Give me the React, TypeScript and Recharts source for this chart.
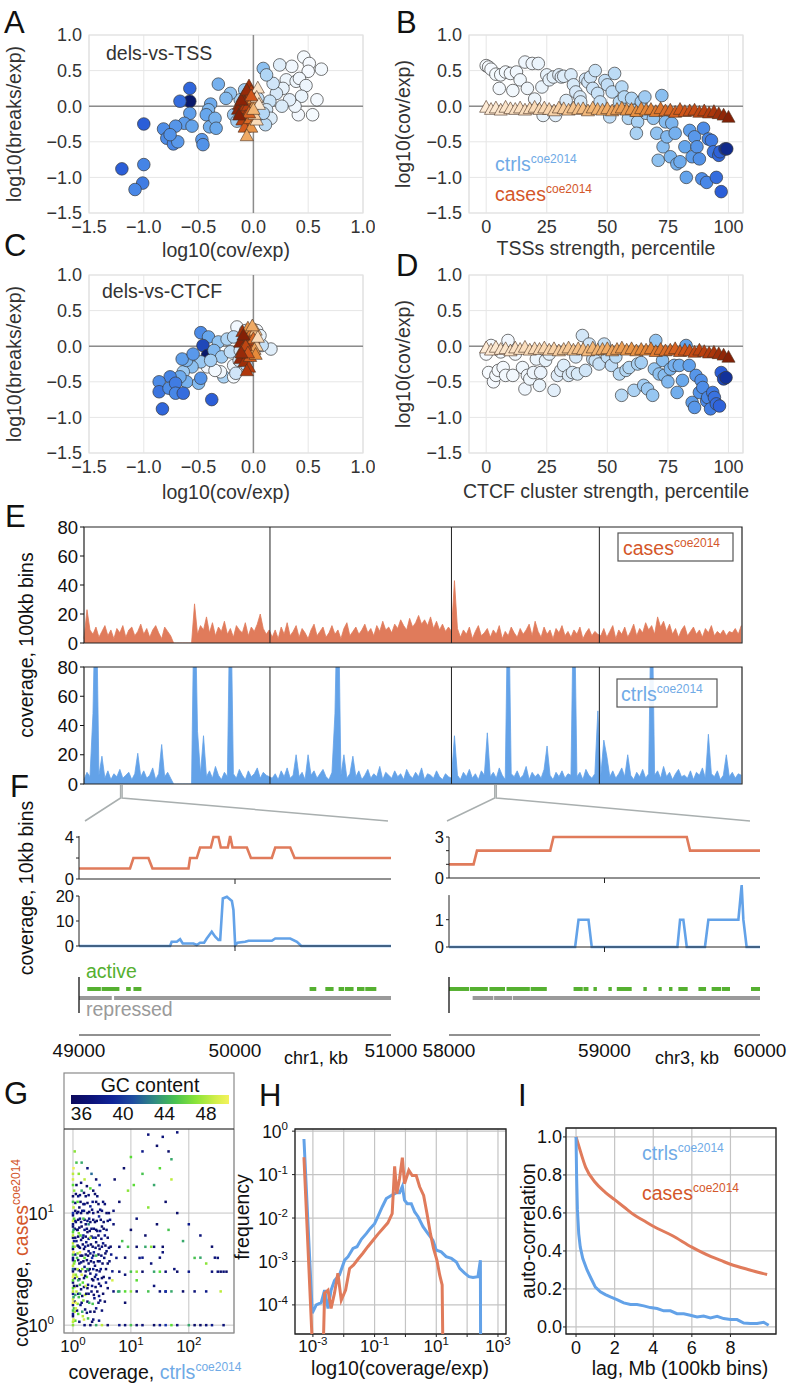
import React from "react";
import {
  ScatterChart, Scatter, XAxis, YAxis, CartesianGrid, ReferenceLine, ReferenceArea,
  AreaChart, Area, LineChart, Line,
} from "recharts";

const FONT = '"Liberation Sans", Arial, Helvetica, sans-serif';
const ORANGE = "#e07b5b";
const BLUE = "#63a2e8";
const CASE_TXT = "#d4572a";
const CTRL_TXT = "#6faae6";
const GREEN = "#55b030";
const GRAY_TRACK = "#9a9a9a";

// ---------------- data: panels A-D ----------------
const logTicks = [-1.5, -1, -0.5, 0, 0.5, 1];
const pctTicks = [0, 25, 50, 75, 100];

// B: TSS strength percentile vs log10(cov/exp), controls (circles)
const tssCtrlPct = [0, 1, 2, 4, 5.4, 6, 8, 10, 11, 12.5, 14, 16, 17, 19, 20, 21.5, 23, 23.5, 25, 26, 27.7, 28.6, 30, 31, 32, 33, 35, 36, 37, 38.7, 39, 41, 42, 43, 44, 45, 46, 47, 49, 50, 51, 52, 53, 55, 56, 57, 58.7, 60, 61, 62.5, 62, 64, 65.5, 66, 69, 70.4, 71, 72.5, 73, 74, 74.6, 76, 76.6, 78, 78.7, 80, 82, 82.6, 84, 85, 86, 87, 88, 89.7, 89, 91, 91.7, 93, 93.8, 95, 96, 97, 96.5, 98.6, 99.3];
const tssCtrlCov = [0.57, 0.55, 0.52, 0.45, 0.25, 0.44, 0.48, 0.46, 0.22, 0.48, 0.37, 0.62, 0.25, 0.6, 0.1, 0.6, 0.27, -0.13, 0.44, 0.37, 0.41, -0.13, 0.44, 0.41, 0.42, 0.08, 0.44, 0.3, 0.2, 0.13, 0.06, 0.38, 0.34, 0.41, 0.25, 0.5, 0.18, 0.06, 0.36, 0.3, -0.15, 0.2, 0.46, 0.06, 0.27, 0.13, -0.17, 0.11, -0.06, -0.22, -0.38, 0.06, 0.13, -0.1, -0.17, -0.38, -0.76, 0.15, -0.57, -0.22, -0.43, -0.71, -0.24, -0.38, -0.81, -0.78, -0.57, -1.0, -0.34, -0.71, -0.43, -0.57, -0.74, -0.31, -1.02, -1.07, -0.46, -0.48, -0.64, -1.0, -0.69, -1.2, -0.64, -0.6, -0.6];
// B: cases (triangles)
const casePct = [0, 2, 4, 6, 8, 10, 12, 14, 16, 18, 20, 22, 24, 26, 28, 30, 32, 34, 36, 38, 40, 42, 44, 46, 48, 50, 52, 54, 56, 58, 60, 62, 64, 66, 68, 70, 72, 74, 76, 78, 80, 82, 84, 86, 88, 90, 92, 94, 96, 98, 100];
const tssCaseCov = [-0.02, -0.05, -0.03, -0.06, -0.02, -0.04, -0.05, -0.03, -0.06, -0.04, -0.02, -0.05, -0.03, -0.05, -0.07, -0.03, -0.04, -0.06, -0.03, -0.05, -0.04, -0.07, -0.03, -0.05, -0.06, -0.04, -0.07, -0.05, -0.03, -0.06, -0.05, -0.08, -0.04, -0.06, -0.05, -0.08, -0.04, -0.07, -0.06, -0.09, -0.05, -0.08, -0.07, -0.06, -0.09, -0.07, -0.1, -0.08, -0.11, -0.13, -0.16];

// A: [log10(cov/exp), log10(breaks/exp), percentile]
const tssCtrlBreaks = [
  [0.46, 0.69, 5], [0.51, 0.6, 3], [0.62, 0.52, 8], [0.35, 0.56, 12], [0.24, 0.58, 30], [0.3, 0.37, 18], [0.27, 0.25, 25], [0.39, 0.35, 14], [0.5, 0.49, 2], [0.42, 0.39, 10],
  [0.48, 0.29, 20], [0.58, 0.09, 6], [0.54, -0.12, 4], [0.44, 0.14, 22], [0.41, -0.12, 9], [0.38, 0, 16], [0.33, 0.09, 28], [0.26, 0, 35], [0.21, 0.18, 38], [0.18, 0.32, 42],
  [0.15, 0.07, 45], [0.12, -0.05, 40], [0.16, -0.17, 33], [0.11, -0.26, 55], [0.09, 0.53, 72], [0.12, 0.44, 60], [0.04, 0.11, 50], [0.09, -0.1, 58], [-0.08, 0.23, 66], [-0.12, 0.09, 62],
  [-0.18, -0.12, 68], [-0.15, -0.21, 64], [-0.21, 0.18, 70], [-0.25, 0.11, 74], [-0.32, 0.31, 78], [-0.39, 0.03, 80], [-0.41, -0.05, 76], [-0.43, -0.12, 82], [-0.4, -0.29, 79], [-0.35, -0.17, 77],
  [-0.34, -0.31, 81], [-0.47, -0.47, 86], [-0.46, -0.54, 88], [-0.58, 0.25, 96], [-0.58, 0.07, 100], [-0.67, 0.07, 95], [-0.58, -0.1, 84], [-0.63, -0.24, 85], [-0.56, -0.28, 83], [-0.71, -0.28, 87],
  [-0.82, -0.32, 89], [-0.79, -0.45, 90], [-0.73, -0.53, 91], [-0.69, -0.5, 86], [-0.76, -0.4, 88], [-1.0, -0.25, 97], [-1.0, -0.82, 92], [-1.01, -1.08, 93], [-1.08, -1.17, 91], [-1.2, -0.88, 97],
];
const tssCaseBreaks = [
  [-0.04, 0.28, 95], [-0.02, 0.2, 90], [-0.06, 0.15, 92], [-0.1, 0.12, 96], [-0.08, 0.05, 98], [-0.13, 0.02, 97], [-0.14, -0.05, 99], [-0.12, -0.1, 94], [-0.09, -0.05, 93], [-0.05, 0.0, 91],
  [-0.03, 0.08, 85], [-0.07, -0.15, 88], [-0.1, -0.2, 90], [-0.05, -0.25, 86], [-0.08, -0.3, 80], [-0.03, -0.18, 75], [-0.01, -0.08, 70], [0.0, 0.1, 65], [0.02, 0.05, 55], [-0.02, -0.3, 60],
  [-0.06, -0.42, 50], [0.03, -0.2, 20], [0.04, 0.25, 10], [0.03, 0.12, 15], [0.05, 0.02, 5], [0.01, -0.12, 30], [-0.04, -0.1, 78], [-0.11, 0.08, 99], [-0.06, 0.22, 97], [-0.13, -0.13, 100],
  [0.0, -0.05, 45], [-0.02, 0.14, 82],
];

// D: CTCF cluster strength percentile vs log10(cov/exp)
const ctcfCtrlPct = [0, 1, 2, 3, 4, 5, 6, 7, 8, 9, 11, 12, 15, 16, 17, 18, 19.5, 20.7, 22, 22.5, 24.5, 26, 28, 29.4, 30.8, 32, 34, 35.6, 37, 37.7, 39.7, 41, 42.5, 44, 45, 46.6, 48.7, 50, 51.7, 53.5, 55, 55.9, 57.7, 59, 61, 62.5, 64, 65, 66.6, 68.7, 69.4, 70, 71.4, 72.8, 73.5, 75, 76, 77.6, 78.8, 79.7, 81, 82.5, 83.8, 85, 86, 86.6, 88, 88.7, 89.4, 91, 91.4, 92.6, 93.5, 94.2, 95, 96.3, 97, 98, 99];
const ctcfCtrlCov = [-0.11, -0.37, 0.01, -0.5, -0.41, -0.34, -0.08, -0.3, -0.41, 0.08, -0.41, -0.11, -0.3, -0.6, -0.41, -0.46, -0.37, -0.18, -0.55, -0.37, -0.2, -0.11, -0.62, -0.41, -0.34, -0.27, -0.41, -0.37, -0.15, -0.39, 0.15, -0.34, 0.03, -0.18, -0.2, -0.25, 0.03, -0.15, -0.27, -0.15, -0.39, -0.69, -0.34, -0.3, -0.62, -0.25, -0.23, -0.55, -0.6, -0.69, -0.32, 0.08, -0.39, -0.2, -0.41, -0.5, -0.32, -0.27, -0.65, -0.27, -0.48, 0.01, -0.27, -0.79, -0.86, -0.41, -0.65, -0.48, -0.58, -0.77, -0.72, -0.88, -0.65, -0.72, -0.81, -0.84, -0.37, -0.46, -0.44];
const ctcfCaseCov = [-0.03, -0.06, -0.02, -0.05, -0.04, -0.07, -0.03, -0.05, -0.02, -0.06, -0.04, -0.05, -0.03, -0.06, -0.04, -0.07, -0.05, -0.03, -0.06, -0.04, -0.05, -0.07, -0.03, -0.06, -0.05, -0.04, -0.07, -0.05, -0.03, -0.06, -0.04, -0.07, -0.05, -0.06, -0.04, -0.08, -0.05, -0.07, -0.06, -0.04, -0.08, -0.06, -0.07, -0.09, -0.06, -0.08, -0.1, -0.09, -0.11, -0.13, -0.16];

// C: [log10(cov/exp), log10(breaks/exp), percentile]
const ctcfCtrlBreaks = [
  [-0.48, 0.19, 90], [-0.41, 0.13, 82], [-0.46, 0.01, 98], [-0.42, -0.13, 100], [-0.32, 0.06, 70], [-0.36, -0.06, 75], [-0.24, 0.1, 60], [-0.15, 0.27, 10], [-0.07, 0.22, 45], [-0.18, 0.13, 55],
  [-0.29, -0.15, 65], [-0.21, -0.08, 50], [-0.12, -0.06, 40], [-0.18, -0.27, 20], [-0.27, -0.43, 62], [-0.18, -0.43, 5], [-0.3, -0.36, 15], [-0.42, -0.29, 12], [-0.48, -0.22, 68], [-0.56, -0.29, 72],
  [-0.64, -0.36, 66], [-0.61, -0.5, 78], [-0.5, -0.52, 74], [-0.48, -0.45, 88], [-0.67, -0.43, 80], [-0.76, -0.43, 92], [-0.86, -0.5, 90], [-0.86, -0.64, 94], [-0.77, -0.59, 89], [-0.71, -0.52, 93],
  [-0.71, -0.66, 91], [-0.64, -0.66, 95], [-0.83, -0.88, 96], [-0.38, -0.75, 97], [0.16, -0.04, 30], [0.08, 0.01, 48], [0.03, 0.22, 3], [0.06, 0.15, 25], [0.0, 0.08, 52], [-0.06, -0.15, 35],
  [-0.06, -0.27, 58], [-0.16, -0.38, 42], [-0.13, -0.2, 38], [-0.35, -0.34, 8], [-0.39, -0.2, 64], [-0.61, -0.2, 76], [-0.65, -0.18, 84], [-0.55, -0.11, 86],
];
const ctcfCaseBreaks = [
  [-0.1, 0.2, 95], [-0.05, 0.25, 60], [-0.02, 0.18, 70], [0.02, 0.22, 40], [-0.08, 0.1, 97], [-0.12, 0.05, 99], [-0.04, 0.05, 90], [0.0, 0.1, 75], [0.03, 0.0, 30], [-0.06, -0.02, 92],
  [-0.1, -0.05, 94], [-0.02, -0.08, 85], [-0.12, -0.18, 98], [-0.08, -0.22, 96], [-0.04, -0.3, 91], [-0.06, -0.35, 93], [-0.03, -0.15, 80], [0.01, -0.05, 55], [-0.07, 0.0, 88], [-0.09, 0.15, 100],
  [0.04, 0.12, 20], [-0.01, 0.28, 50], [0.02, -0.12, 65], [-0.05, -0.1, 83], [-0.11, -0.1, 97],
];

// ---------------- data: panel E (100kb coverage, chr1-4, sampled every 4 Mb) ----------------
const chromBounds = [249, 492, 690];
const genomeMb = 881;
const binStepMb = 4;
const casesE = [
  3, 23, 9, 6, 11, 4, 8, 12, 5, 9, 3, 10, 7, 12, 4, 9, 11, 5, 8, 13, 6, 10, 4, 9, 12, 7, 3, 11, 8, 5, 0, 0, 0, 0, 0, 0, 0, 27, 6, 12, 9, 18, 7, 14, 5, 11, 8, 15, 6, 10, 4, 12, 9, 7, 14, 5, 11, 8, 13, 20, 10, 6, 9,
  4, 9, 3, 11, 6, 14, 5, 8, 12, 4, 10, 7, 3, 9, 13, 5, 8, 11, 4, 7, 12, 6, 9, 3, 10, 14, 5, 8, 11, 6, 9, 13, 7, 10, 5, 12, 8, 15, 9, 11, 7, 13, 10, 16, 12, 9, 17, 11, 14, 19, 13, 16, 12, 18, 10, 15, 9, 13, 8, 11,
  8, 43, 10, 4, 9, 6, 11, 3, 8, 12, 5, 7, 10, 4, 9, 6, 12, 3, 8, 5, 11, 7, 4, 10, 6, 9, 13, 5, 15, 8, 4, 11, 6, 9, 3, 10, 7, 12, 5, 8, 4, 9, 6, 11, 3, 7, 10, 5, 8, 6,
  5, 10, 4, 8, 12, 3, 9, 6, 11, 4, 8, 13, 5, 10, 7, 14, 9, 12, 6, 18, 11, 15, 8, 13, 6, 10, 4, 9, 12, 5, 8, 11, 6, 9, 4, 10, 7, 12, 5, 8, 6, 9, 5, 8, 7, 10, 6, 12,
];
const ctrlsE = [
  3, 8, 5, 48, 150, 6, 19, 4, 9, 3, 7, 5, 10, 4, 6, 8, 3, 7, 21, 5, 9, 4, 6, 11, 3, 7, 27, 5, 8, 4, 0, 0, 0, 0, 0, 0, 0, 150, 36, 7, 33, 5, 9, 4, 12, 6, 3, 8, 5, 150, 7, 4, 10, 6, 3, 9, 5, 7, 11, 4, 8, 6, 5,
  4, 7, 3, 9, 5, 11, 4, 6, 20, 5, 8, 3, 20, 6, 9, 4, 7, 10, 5, 3, 8, 48, 150, 6, 20, 4, 7, 19, 5, 9, 3, 6, 10, 4, 7, 5, 12, 3, 8, 6, 4, 9, 5, 7, 3, 10, 6, 4, 8, 5, 11, 3, 7, 6, 4, 9, 5, 3, 7, 5,
  4, 33, 6, 3, 8, 5, 10, 4, 7, 3, 9, 6, 35, 5, 8, 4, 11, 6, 3, 150, 7, 5, 9, 4, 6, 12, 3, 8, 5, 7, 4, 10, 26, 6, 3, 8, 5, 9, 4, 7, 6, 150, 5, 8, 3, 10, 6, 4, 7, 50,
  6, 30, 19, 5, 9, 4, 7, 11, 5, 20, 6, 3, 8, 5, 10, 4, 7, 150, 6, 9, 4, 12, 5, 8, 3, 7, 10, 5, 6, 4, 9, 3, 8, 6, 11, 4, 34, 7, 5, 9, 3, 6, 20, 5, 8, 4, 7, 6,
];

// ---------------- data: panel F (10kb bins) ----------------
const fLeftCases = [[49000, 1], [49327, 1], [49349, 2], [49445, 2], [49471, 1], [49702, 1], [49712, 2], [49755, 2], [49776, 3], [49845, 3], [49862, 4], [49894, 4], [49909, 3], [49954, 3], [49969, 4.1], [49984, 3], [50076, 3], [50102, 2], [50236, 2], [50258, 3], [50354, 3], [50382, 2], [51000, 2]];
const fLeftCtrls = [[49000, 0], [49584, 0], [49594, 1.7], [49627, 1.7], [49648, 2.7], [49665, 1], [49734, 1], [49755, 0.4], [49776, 1.3], [49802, 1.3], [49819, 3], [49851, 5.7], [49873, 3.7], [49894, 2.4], [49905, 2.4], [49922, 19], [49948, 19.7], [49980, 18], [49990, 14.4], [50001, 0.4], [50016, 1.3], [50065, 1.7], [50087, 2.1], [50236, 2.1], [50258, 3], [50354, 3], [50397, 1.7], [50425, 0], [51000, 0]];
const fRightCases = [[58000, 1], [58158, 1], [58180, 2], [58651, 2], [58672, 3], [59529, 3], [59550, 2], [60000, 2]];
const fRightCtrls = [[58000, 0], [58811, 0], [58833, 1], [58897, 1], [58918, 0], [59469, 0], [59486, 1], [59507, 1], [59529, 0], [59646, 0], [59668, 1], [59861, 1], [59882, 2.27], [59893, 1], [59914, 0], [60000, 0]];
const leftActive = [[49053, 49140], [49145, 49259], [49302, 49332], [49349, 49400], [50478, 50521], [50579, 50632], [50664, 50700], [50705, 50760], [50782, 50830], [50835, 50906]];
const leftRepressed = [[49000, 49210], [49225, 51000]];
const rightActive = [[58000, 58130], [58135, 58250], [58260, 58360], [58370, 58520], [58525, 58629], [58801, 58860], [58865, 58897], [58929, 58951], [59025, 59047], [59079, 59175], [59250, 59272], [59347, 59368], [59415, 59437], [59475, 59535], [59604, 59653], [59689, 59750], [59755, 59807], [59942, 60000]];
const rightRepressed = [[58152, 58285], [58290, 58405], [58410, 60000]];

// ---------------- data: panel G [log10 ctrl cov, log10 case cov, GC%] ----------------
const gcPoints = [
  [0.0, 0.0, 47], [0.01, 0.05, 49], [0.0, 0.1, 38], [0.02, 0.15, 45], [0.0, 0.2, 50], [0.01, 0.25, 44], [0.0, 0.3, 48], [0.02, 0.35, 36], [0.0, 0.4, 46], [0.01, 0.45, 49],
  [0.0, 0.5, 42], [0.02, 0.55, 47], [0.0, 0.6, 37], [0.01, 0.65, 50], [0.0, 0.7, 45], [0.02, 0.75, 39], [0.0, 0.8, 48], [0.01, 0.85, 44], [0.0, 0.9, 37], [0.02, 0.95, 46],
  [0.0, 1.0, 40], [0.01, 1.05, 48], [0.0, 1.1, 45], [0.02, 1.2, 47], [0.0, 1.3, 49], [0.01, 1.4, 50],
  [0.05, 0.92, 37], [0.08, 0.85, 36], [0.12, 0.95, 38], [0.15, 0.88, 36], [0.18, 0.8, 39], [0.22, 0.9, 37], [0.25, 0.83, 36], [0.28, 0.95, 38], [0.32, 0.86, 37], [0.35, 0.78, 40],
  [0.38, 0.92, 36], [0.42, 0.84, 37], [0.45, 0.97, 39], [0.5, 0.88, 36], [0.55, 0.8, 38], [0.6, 0.93, 37],
  [0.06, 0.75, 38], [0.1, 0.7, 36], [0.14, 0.76, 37], [0.19, 0.68, 36], [0.23, 0.74, 38], [0.27, 0.66, 37], [0.31, 0.72, 36], [0.36, 0.65, 39], [0.4, 0.74, 37], [0.46, 0.68, 36], [0.52, 0.73, 38], [0.58, 0.66, 37], [0.65, 0.7, 36],
  [0.07, 0.6, 45], [0.11, 0.55, 37], [0.16, 0.62, 36], [0.2, 0.52, 38], [0.24, 0.58, 37], [0.29, 0.5, 36], [0.33, 0.6, 40], [0.38, 0.53, 37], [0.43, 0.57, 36], [0.48, 0.5, 38], [0.54, 0.6, 37], [0.6, 0.55, 36],
  [0.05, 0.45, 47], [0.09, 0.4, 44], [0.13, 0.48, 37], [0.17, 0.38, 46], [0.21, 0.44, 36], [0.26, 0.36, 38], [0.3, 0.46, 37], [0.35, 0.4, 36], [0.4, 0.45, 39], [0.45, 0.37, 37], [0.5, 0.42, 36], [0.57, 0.38, 38],
  [0.06, 0.3, 48], [0.1, 0.25, 45], [0.14, 0.32, 37], [0.18, 0.22, 47], [0.23, 0.28, 36], [0.28, 0.2, 44], [0.32, 0.3, 37], [0.37, 0.24, 38], [0.42, 0.3, 36], [0.47, 0.22, 37],
  [0.05, 0.15, 49], [0.09, 0.1, 46], [0.13, 0.18, 38], [0.17, 0.08, 48], [0.21, 0.14, 37], [0.26, 0.06, 45], [0.3, 0.12, 36], [0.35, 0.05, 37], [0.4, 0.15, 38],
  [0.07, 1.0, 37], [0.11, 1.05, 36], [0.16, 1.02, 38], [0.2, 1.08, 37], [0.25, 1.0, 36], [0.3, 1.06, 39], [0.35, 1.0, 37], [0.4, 1.1, 36], [0.47, 1.03, 38], [0.55, 1.08, 37], [0.62, 1.0, 36],
  [0.09, 1.15, 38], [0.15, 1.2, 44], [0.22, 1.15, 37], [0.3, 1.22, 46], [0.38, 1.17, 36], [0.46, 1.25, 40], [0.2, 1.3, 48], [0.1, 1.35, 47], [0.32, 1.35, 42],
  [0.08, 0.5, 48], [0.12, 0.65, 50], [0.2, 0.6, 46], [0.15, 0.45, 49], [0.25, 0.5, 44], [0.1, 0.82, 47], [0.18, 0.95, 45], [0.3, 0.78, 48], [0.05, 0.2, 50], [0.12, 0.28, 44], [0.22, 0.35, 49], [0.08, 1.1, 46], [0.27, 0.9, 43], [0.4, 0.62, 45],
  [0.7, 0.9, 37], [0.75, 0.6, 38], [0.8, 1.1, 36], [0.85, 0.75, 45], [0.9, 0.45, 37], [0.95, 1.2, 47], [0.72, 1.3, 36], [0.78, 0.3, 44], [1.0, 0.85, 36], [1.05, 1.25, 46],
  [1.1, 0.95, 37], [1.15, 0.6, 38], [1.2, 1.35, 45], [1.25, 0.8, 36], [1.3, 1.05, 47], [1.35, 0.55, 37], [1.4, 1.25, 44], [1.45, 0.9, 36], [1.5, 1.4, 46], [1.55, 0.65, 37],
  [1.6, 1.1, 36], [1.65, 0.85, 45], [1.7, 1.3, 48], [1.75, 0.5, 37], [1.8, 1.0, 36], [1.9, 0.75, 44], [2.0, 0.9, 38], [2.1, 0.6, 45], [2.2, 0.8, 37], [2.3, 0.55, 47],
  [2.4, 0.7, 36], [0.88, 1.4, 36], [1.0, 1.5, 46], [1.2, 1.55, 38], [1.3, 1.7, 37], [1.45, 1.6, 36], [1.55, 1.68, 37], [1.65, 1.55, 36], [1.8, 1.72, 37], [1.7, 1.48, 44],
  [0.68, 0.4, 49], [0.9, 0.2, 36], [1.1, 0.4, 46], [1.4, 0.35, 37], [1.6, 0.3, 36], [2.5, 0.6, 37],
  [0.2, 0, 37], [0.4, 0, 44], [0.6, 0, 36], [0.8, 0, 38], [1.0, 0, 45], [1.2, 0, 37], [1.4, 0, 36], [1.6, 0, 40], [1.8, 0, 37], [2.0, 0, 44], [2.2, 0, 36], [2.4, 0, 38], [2.6, 0, 37],
  [0.5, 0, 48], [1.1, 0, 36], [1.7, 0, 46], [2.3, 0, 37], [0.3, 0, 36], [0.9, 0, 37], [1.5, 0, 38], [2.1, 0, 36],
  [0.7, 0.301, 37], [0.9, 0.301, 46], [1.1, 0.301, 36], [1.3, 0.301, 45], [1.5, 0.301, 37], [1.7, 0.301, 44], [1.9, 0.301, 36], [2.1, 0.301, 37], [2.3, 0.301, 38], [2.55, 0.301, 48], [1.0, 0.301, 47], [1.6, 0.301, 40], [0.8, 0.301, 44],
  [0.8, 0.477, 37], [1.0, 0.477, 45], [1.2, 0.477, 36], [1.4, 0.477, 44], [1.6, 0.477, 37], [1.8, 0.477, 36], [2.0, 0.477, 38], [2.4, 0.477, 37], [2.5, 0.477, 37], [2.55, 0.477, 36], [2.6, 0.477, 37], [2.65, 0.477, 36], [1.1, 0.477, 47], [1.5, 0.477, 46],
  [0.8, 0.699, 37], [0.95, 0.699, 45], [1.1, 0.699, 36], [1.25, 0.699, 44], [1.4, 0.699, 37], [1.55, 0.699, 36], [1.35, 0.699, 47],
  [0.9, 0.602, 36], [1.2, 0.602, 38], [1.5, 0.602, 37], [2.2, 0.602, 44], [2.45, 0.602, 37],
];
// denser core of the low-coverage cloud
const gcPointsCore = [
  [0.04, 0.04, 46], [0.11, 0.03, 37], [0.19, 0.05, 49], [0.33, 0.03, 36], [0.45, 0.04, 38],
  [0.03, 0.12, 48], [0.07, 0.13, 36], [0.16, 0.12, 44], [0.24, 0.11, 37], [0.37, 0.12, 36], [0.5, 0.13, 37],
  [0.03, 0.21, 36], [0.08, 0.19, 47], [0.15, 0.2, 37], [0.25, 0.21, 36], [0.34, 0.19, 45], [0.44, 0.2, 37], [0.55, 0.21, 36],
  [0.04, 0.27, 44], [0.09, 0.28, 37], [0.16, 0.26, 36], [0.21, 0.27, 48], [0.27, 0.28, 37], [0.36, 0.27, 36], [0.45, 0.26, 38], [0.52, 0.28, 36],
  [0.03, 0.34, 49], [0.07, 0.35, 36], [0.12, 0.36, 45], [0.19, 0.34, 37], [0.25, 0.33, 36], [0.33, 0.35, 38], [0.39, 0.34, 36], [0.48, 0.35, 37], [0.6, 0.33, 36],
  [0.03, 0.42, 37], [0.07, 0.43, 48], [0.11, 0.41, 36], [0.19, 0.42, 37], [0.24, 0.43, 46], [0.33, 0.41, 36], [0.38, 0.43, 37], [0.43, 0.41, 38], [0.53, 0.43, 36], [0.63, 0.42, 37],
  [0.04, 0.5, 36], [0.1, 0.49, 37], [0.16, 0.5, 47], [0.22, 0.48, 36], [0.27, 0.49, 37], [0.35, 0.5, 38], [0.41, 0.49, 36], [0.46, 0.48, 37], [0.57, 0.5, 36], [0.68, 0.48, 38],
  [0.03, 0.57, 46], [0.09, 0.58, 36], [0.14, 0.56, 38], [0.18, 0.57, 36], [0.27, 0.55, 37], [0.31, 0.57, 36], [0.36, 0.56, 37], [0.46, 0.57, 38], [0.51, 0.55, 36], [0.63, 0.57, 37],
  [0.04, 0.63, 38], [0.08, 0.64, 47], [0.13, 0.62, 36], [0.22, 0.63, 37], [0.26, 0.62, 36], [0.3, 0.64, 38], [0.35, 0.62, 37], [0.44, 0.63, 36], [0.49, 0.62, 37], [0.56, 0.64, 36], [0.66, 0.63, 38],
  [0.03, 0.7, 48], [0.08, 0.71, 36], [0.12, 0.69, 37], [0.17, 0.72, 36], [0.21, 0.7, 38], [0.26, 0.71, 37], [0.34, 0.7, 36], [0.39, 0.69, 37], [0.44, 0.71, 36], [0.5, 0.7, 37], [0.56, 0.71, 36], [0.62, 0.69, 37],
  [0.04, 0.78, 37], [0.09, 0.79, 36], [0.13, 0.8, 46], [0.17, 0.78, 37], [0.22, 0.79, 36], [0.27, 0.77, 38], [0.32, 0.79, 36], [0.39, 0.78, 37], [0.44, 0.8, 36], [0.49, 0.77, 37], [0.6, 0.78, 36],
  [0.03, 0.86, 36], [0.07, 0.85, 37], [0.11, 0.87, 36], [0.2, 0.85, 38], [0.24, 0.86, 37], [0.29, 0.84, 36], [0.36, 0.86, 37], [0.4, 0.85, 36], [0.47, 0.84, 38], [0.53, 0.86, 36], [0.58, 0.85, 37],
  [0.04, 0.93, 37], [0.09, 0.94, 36], [0.14, 0.92, 37], [0.2, 0.94, 36], [0.25, 0.93, 38], [0.3, 0.92, 36], [0.35, 0.94, 37], [0.41, 0.93, 36], [0.48, 0.94, 37], [0.53, 0.92, 36], [0.64, 0.94, 38],
  [0.04, 1.02, 36], [0.09, 1.01, 37], [0.14, 1.0, 36], [0.19, 1.02, 38], [0.28, 1.01, 36], [0.33, 1.03, 37], [0.43, 1.01, 36], [0.5, 1.02, 37], [0.58, 1.0, 36], [0.7, 1.02, 37],
  [0.04, 1.09, 37], [0.13, 1.1, 36], [0.18, 1.08, 37], [0.25, 1.09, 36], [0.34, 1.1, 38], [0.44, 1.08, 36], [0.52, 1.1, 37],
  [0.05, 1.17, 36], [0.12, 1.16, 37], [0.19, 1.18, 36], [0.27, 1.16, 37], [0.35, 1.2, 36], [0.42, 1.15, 37],
  [0.06, 1.25, 36], [0.14, 1.27, 37], [0.24, 1.24, 36], [0.06, 1.45, 45], [0.03, 1.55, 47], [0.15, 1.45, 44], [0.25, 1.4, 37], [0.4, 1.3, 36],
  [0.0, 0.03, 48], [0.0, 0.08, 36], [0.0, 0.13, 45], [0.0, 0.18, 37], [0.0, 0.23, 49], [0.0, 0.28, 38], [0.0, 0.33, 46], [0.0, 0.38, 37], [0.0, 0.43, 50], [0.0, 0.48, 36],
  [0.0, 0.53, 48], [0.0, 0.58, 37], [0.0, 0.63, 45], [0.0, 0.68, 36], [0.0, 0.73, 48], [0.0, 0.78, 37], [0.0, 0.83, 46], [0.0, 0.88, 36], [0.0, 0.93, 49], [0.0, 0.98, 37],
  [0.0, 1.15, 36], [0.0, 1.25, 46], [0.0, 1.35, 48],
];
const gcTicks = [36, 40, 44, 48];
const gcRange = [35, 50.2];

// ---------------- data: panel H [log10 coverage/exp, log10 frequency] ----------------
const histCtrl = [[-3.29, -0.18], [-3.02, -4.19], [-2.89, -4.0], [-2.73, -3.95], [-2.62, -3.66], [-2.51, -4.08], [-2.41, -3.66], [-2.3, -3.44], [-2.14, -3.31], [-1.97, -2.97], [-1.86, -2.89], [-1.7, -2.7], [-1.57, -2.66], [-1.43, -2.49], [-1.27, -2.36], [-1.14, -2.24], [-1.0, -2.13], [-0.89, -1.96], [-0.75, -1.74], [-0.62, -1.55], [-0.46, -1.48], [-0.3, -1.42], [-0.19, -1.42], [-0.1, -1.27], [-0.03, -1.59], [0.06, -1.67], [0.19, -1.67], [0.3, -1.86], [0.41, -1.97], [0.57, -2.2], [0.73, -2.36], [0.89, -2.51], [1.0, -2.74], [1.16, -2.78], [1.32, -2.89], [1.49, -2.93], [1.65, -3.01], [1.76, -3.16], [1.92, -3.27], [2.06, -3.35], [2.19, -3.37], [2.35, -3.35], [2.43, -2.97], [2.44, -6]];
const histCases = [[-3.29, -0.6], [-2.95, -6], [-2.7, -6], [-2.62, -3.73], [-2.51, -3.66], [-2.41, -4.08], [-2.3, -3.73], [-2.19, -3.27], [-2.08, -3.89], [-1.94, -3.66], [-1.81, -3.16], [-1.68, -3.08], [-1.54, -2.95], [-1.38, -2.81], [-1.22, -2.66], [-1.05, -2.51], [-0.89, -2.37], [-0.73, -2.24], [-0.57, -2.11], [-0.43, -1.9], [-0.35, -0.81], [-0.28, -1.44], [-0.19, -1.09], [-0.1, -0.61], [-0.03, -1.21], [0.11, -0.9], [0.22, -1.02], [0.35, -1.02], [0.46, -1.28], [0.59, -1.48], [0.7, -1.9], [0.81, -2.36], [0.91, -2.7], [1.02, -2.97], [1.11, -3.31], [1.19, -3.54], [1.23, -6]];

// ---------------- data: panel I [lag Mb, autocorrelation] ----------------
const acfCases = [[0, 1], [0.15, 0.95], [0.5, 0.84], [1, 0.76], [1.5, 0.71], [2, 0.67], [2.5, 0.63], [3, 0.59], [3.5, 0.56], [4, 0.53], [5, 0.48], [6, 0.42], [7, 0.37], [7.5, 0.35], [8, 0.33], [9, 0.3], [9.9, 0.276]];
const acfCtrl = [[0, 1], [0.03, 0.79], [0.07, 0.62], [0.14, 0.49], [0.22, 0.42], [0.35, 0.36], [0.57, 0.3], [0.78, 0.255], [1.0, 0.21], [1.26, 0.185], [1.52, 0.17], [1.78, 0.158], [2.12, 0.144], [2.47, 0.127], [2.82, 0.118], [3.16, 0.118], [3.51, 0.111], [3.85, 0.102], [4.2, 0.097], [4.54, 0.085], [4.89, 0.085], [5.23, 0.07], [5.58, 0.07], [5.92, 0.062], [6.27, 0.053], [6.61, 0.058], [6.96, 0.048], [7.31, 0.056], [7.65, 0.044], [8.0, 0.039], [8.34, 0.039], [8.69, 0.021], [9.03, 0.018], [9.38, 0.018], [9.72, 0.025], [9.98, 0.009]];

// ---------------- colour maps ----------------
const mixHex = (a: string, b: string, t: number) => {
  const pa = [1, 3, 5].map((i) => parseInt(a.slice(i, i + 2), 16));
  const pb = [1, 3, 5].map((i) => parseInt(b.slice(i, i + 2), 16));
  return "#" + pa.map((v, k) => Math.round(v + (pb[k] - v) * t).toString(16).padStart(2, "0")).join("");
};
const ramp = (stops: [number, string][]) => (v: number) => {
  if (v <= stops[0][0]) return stops[0][1];
  for (let i = 1; i < stops.length; i++) {
    if (v <= stops[i][0]) {
      const [a, ca] = stops[i - 1];
      const [b, cb] = stops[i];
      return mixHex(ca, cb, (v - a) / (b - a));
    }
  }
  return stops[stops.length - 1][1];
};
const blues = ramp([[0, "#f7fbff"], [20, "#edf5fc"], [40, "#d3e7f8"], [60, "#b0d5f4"], [72, "#8cc0f0"], [82, "#66a6ec"], [92, "#4584e6"], [97, "#2b5ed8"], [99, "#13329a"], [100, "#08186a"]]);
const oranges = ramp([[0, "#fdebd6"], [25, "#f9d7b0"], [45, "#f2b472"], [65, "#e68a3a"], [82, "#d1561a"], [93, "#b0380c"], [100, "#842006"]]);
const gcColor = ramp([[35, "#0d0a5c"], [38, "#0b1888"], [40, "#1530a8"], [42, "#286c98"], [44, "#38a86c"], [46, "#58dc34"], [48, "#bcec3c"], [50.2, "#f4f25c"]]);

// ---------------- derived series ----------------
const bCtrl = tssCtrlPct.map((p, i) => ({ x: p, y: tssCtrlCov[i], c: blues(p) }));
const bCase = casePct.map((p, i) => ({ x: p, y: tssCaseCov[i], c: oranges(p) }));
const dCtrl = ctcfCtrlPct.map((p, i) => ({ x: p, y: ctcfCtrlCov[i], c: blues(p) }));
const dCase = casePct.map((p, i) => ({ x: p, y: ctcfCaseCov[i], c: oranges(p) }));
const toPts = (arr: number[][], cm: (v: number) => string) => arr.map(([x, y, p]) => ({ x, y, c: cm(p) }));
const aCtrl = toPts(tssCtrlBreaks, blues);
const aCase = toPts(tssCaseBreaks, oranges);
const cCtrl = toPts(ctcfCtrlBreaks, blues);
const cCase = toPts(ctcfCaseBreaks, oranges);
const eCases = casesE.map((v, i) => ({ x: i * binStepMb, v }));
const eCtrls = ctrlsE.map((v, i) => ({ x: i * binStepMb, v }));
const xy = (arr: number[][]) => arr.map(([x, y]) => ({ x, y }));
const gPts = [...gcPointsCore, ...gcPoints].map(([x, y, g]) => ({ x, y, c: gcColor(g) }));

// ---------------- helpers ----------------
const M = 12;
function fr(px: number, py: number, pw: number, ph: number, W: number, H: number, R: number = M) {
  return {
    style: { position: "absolute" as const, left: px - W, top: py - M },
    width: W + pw + R,
    height: M + ph + H,
    margin: { top: M, right: R, left: 0, bottom: 0 },
  };
}
const dec = (v: number) => (v < 0 ? "\u2212" : "") + Math.abs(v).toFixed(1);
const plain = (v: number) => String(v);
const xTick = (fmt: (v: number) => string, fs: number, color: string) => (p: any) => (
  <text x={p.x} y={p.y} dy={fs * 0.71} textAnchor="middle" fontSize={fs} fill={color} fontFamily={FONT}>{fmt(p.payload.value)}</text>
);
const yTick = (fmt: (v: number) => string, fs: number, color: string) => (p: any) => (
  <text x={p.x} y={p.y} dy={fs * 0.36} textAnchor="end" fontSize={fs} fill={color} fontFamily={FONT}>{fmt(p.payload.value)}</text>
);
const powX = (show: (v: number) => boolean) => (p: any) => {
  const v = p.payload.value;
  if (!show(v)) return <g />;
  return (
    <text x={p.x} y={p.y} dy={12} textAnchor="middle" fontSize={17} fill="#111" fontFamily={FONT}>
      <tspan>10</tspan><tspan dy={-7.5} fontSize={11.5}>{v}</tspan>
    </text>
  );
};
const powY = (p: any) => {
  const v = p.payload.value;
  return (
    <text x={p.x} y={p.y} dy={6.5} textAnchor="end" fontSize={17.5} fill="#111" fontFamily={FONT}>
      <tspan>10</tspan><tspan dy={-7.5} fontSize={11.5}>{v}</tspan>
    </text>
  );
};
const circ = (p: any) => <circle cx={p.cx} cy={p.cy} r={6.3} fill={p.payload.c} stroke="#3a3a3a" strokeWidth={0.7} />;
const tri = (p: any) => (
  <polygon points={`${p.cx},${p.cy - 7.2} ${p.cx - 6.6},${p.cy + 4.6} ${p.cx + 6.6},${p.cy + 4.6}`} fill={p.payload.c} stroke="#4a3020" strokeWidth={0.6} />
);
const dot = (p: any) => <rect x={p.cx - 1.25} y={p.cy - 1.25} width={2.5} height={2.5} fill={p.payload.c} />;

const TICK_AD = "#333";
const FS_T = 18;
const FS_F = 16.5;

function ScatterPanel({ left, top, xDomain, xTicks, ctrl, cases, vZero }: any) {
  const f = fr(left, top, 274, 178, 50, 40);
  return (
    <div style={f.style}>
      <ScatterChart width={f.width} height={f.height} margin={f.margin}>
        <CartesianGrid stroke="#e6e6e6" strokeWidth={1} />
        <XAxis type="number" dataKey="x" domain={xDomain} ticks={xTicks} interval={0} axisLine={false} tickLine={false} tickSize={0} tickMargin={7} height={40}
          tick={xTick(vZero ? dec : plain, FS_T, TICK_AD)} />
        <YAxis type="number" dataKey="y" domain={[-1.5, 1]} ticks={logTicks} interval={0} axisLine={false} tickLine={false} tickSize={0} tickMargin={7} width={50}
          tick={yTick(dec, FS_T, TICK_AD)} />
        <ReferenceArea x1={xDomain[0]} x2={xDomain[1]} y1={-1.5} y2={1} fill="none" stroke="#e2e2e2" strokeWidth={1.2} />
        {vZero && <ReferenceLine x={0} stroke="#8c8c8c" strokeWidth={1.5} />}
        <ReferenceLine y={0} stroke="#8c8c8c" strokeWidth={1.5} />
        <Scatter data={ctrl} shape={circ} isAnimationActive={false} />
        <Scatter data={cases} shape={tri} isAnimationActive={false} />
      </ScatterChart>
    </div>
  );
}

function CoverageE({ top, height, data, color }: any) {
  const f = fr(84, top, 658, height, 50, 10);
  return (
    <div style={f.style}>
      <AreaChart width={f.width} height={f.height} margin={f.margin} data={data}>
        <XAxis type="number" dataKey="x" domain={[0, genomeMb]} ticks={[]} axisLine={false} tickLine={false} tick={false} height={10} />
        <YAxis type="number" domain={[0, 80]} ticks={[0, 20, 40, 60, 80]} interval={0} allowDataOverflow axisLine={false} tickSize={4} tickMargin={2}
          tickLine={{ stroke: "#111" }} width={50} tick={yTick(plain, 18.5, "#111")} />
        <Area type="linear" dataKey="v" stroke={color} strokeWidth={0.8} fill={color} fillOpacity={1} isAnimationActive={false} />
        {chromBounds.map((b) => <ReferenceLine key={b} x={b} stroke="#222" strokeWidth={1} />)}
        <ReferenceArea x1={0} x2={genomeMb} y1={0} y2={80} fill="none" stroke="#222" strokeWidth={1.2} />
      </AreaChart>
    </div>
  );
}

function FLine({ left, top, width, height, xDomain, midTick, yDomain, yTicks, showY, data, color, axisTop }: any) {
  const f = fr(left, top, width, height, 40, 10);
  return (
    <div style={f.style}>
      <LineChart width={f.width} height={f.height} margin={f.margin}>
        <XAxis type="number" dataKey="x" domain={xDomain} ticks={[midTick]} interval={0} axisLine={{ stroke: "#222" }} tickLine={{ stroke: "#222" }} tickSize={5}
          tick={() => <g />} height={10} />
        <YAxis type="number" domain={yDomain} ticks={yTicks} interval={0} axisLine={axisTop == null ? { stroke: "#222" } : false} tickLine={{ stroke: "#222" }} tickSize={3} tickMargin={2} width={40}
          tick={yTick((v: number) => (showY.includes(v) ? String(v) : ""), FS_F, "#111")} />
        {axisTop != null && (
          <ReferenceLine segment={[{ x: xDomain[0], y: 0 }, { x: xDomain[0], y: axisTop }]} stroke="#222" strokeWidth={1} />
        )}
        <Line data={xy(data)} dataKey="y" type="linear" stroke={color} strokeWidth={2.6} dot={false} isAnimationActive={false} />
      </LineChart>
    </div>
  );
}

function FTrack({ left, width, xDomain, xTicks, active, repressed }: any) {
  const f = fr(left, 965, width, 70, 40, 40, 40);
  return (
    <div style={f.style}>
      <LineChart width={f.width} height={f.height} margin={f.margin}>
        <XAxis type="number" dataKey="x" domain={xDomain} ticks={xTicks} interval={0} axisLine={{ stroke: "#222" }} tickLine={false} tickSize={0} tickMargin={8.5} height={40}
          tick={xTick(plain, 19, "#111")} />
        <YAxis type="number" domain={[0, 10]} ticks={[]} axisLine={false} tickLine={false} tick={false} width={40} />
        <Line data={[{ x: xDomain[0], y: 0 }, { x: xDomain[1], y: 0 }]} dataKey="y" stroke="none" dot={false} isAnimationActive={false} />
        {repressed.map(([a, b]: number[], i: number) => (
          <ReferenceArea key={"r" + i} x1={a} x2={b} y1={5.0} y2={5.57} fill={GRAY_TRACK} fillOpacity={1} stroke="none" />
        ))}
        {active.map(([a, b]: number[], i: number) => (
          <ReferenceArea key={"a" + i} x1={a} x2={b} y1={6.29} y2={6.86} fill={GREEN} fillOpacity={1} stroke="none" />
        ))}
        <ReferenceLine segment={[{ x: xDomain[0], y: 3.14 }, { x: xDomain[0], y: 8.29 }]} stroke="#111" strokeWidth={1.3} />
      </LineChart>
    </div>
  );
}

const Sup = ({ children, color }: any) => (
  <tspan dy={-8} fontSize={12} fill={color}>{children}</tspan>
);

export default function App() {
  const fG = fr(64, 1129, 170, 204, 60, 40);
  const fH = fr(295, 1129, 211, 205, 45, 40);
  const fI = fr(566, 1128, 210, 206, 45, 40);
  const xE = (mb: number) => 84 + (mb / genomeMb) * 658;
  const gcX = (g: number) => 71 + ((g - gcRange[0]) / (gcRange[1] - gcRange[0])) * 158;
  const gradStops = [35, 37, 39, 41, 43, 45, 47, 49, 50.2];
  return (
    <div style={{ position: "absolute", left: 0, top: 0, width: 793, height: 1388, background: "#fff", fontFamily: FONT }}>
      {/* A-D */}
      <ScatterPanel left={89} top={35} xDomain={[-1.5, 1]} xTicks={logTicks} ctrl={aCtrl} cases={aCase} vZero />
      <ScatterPanel left={469} top={35} xDomain={[-7.1, 106]} xTicks={pctTicks} ctrl={bCtrl} cases={bCase} vZero={false} />
      <ScatterPanel left={89} top={275} xDomain={[-1.5, 1]} xTicks={logTicks} ctrl={cCtrl} cases={cCase} vZero />
      <ScatterPanel left={469} top={275} xDomain={[-7.1, 106]} xTicks={pctTicks} ctrl={dCtrl} cases={dCase} vZero={false} />

      {/* E */}
      <CoverageE top={527} height={116} data={eCases} color={ORANGE} />
      <CoverageE top={667} height={117} data={eCtrls} color={BLUE} />

      {/* F */}
      <FLine left={79} top={836} width={312} height={43} xDomain={[49000, 51000]} midTick={50000} yDomain={[0, 4]} yTicks={[0, 2, 4]} showY={[0, 4]} data={fLeftCases} color={ORANGE} />
      <FLine left={79} top={896} width={312} height={50} xDomain={[49000, 51000]} midTick={50000} yDomain={[0, 20]} yTicks={[0, 10, 20]} showY={[0, 10, 20]} data={fLeftCtrls} color={BLUE} />
      <FLine left={449} top={837} width={311} height={41} xDomain={[58000, 60000]} midTick={59000} yDomain={[0, 3]} yTicks={[0, 1, 2, 3]} showY={[0, 3]} data={fRightCases} color={ORANGE} />
      <FLine left={449} top={885} width={311} height={62} xDomain={[58000, 60000]} midTick={59000} yDomain={[0, 2.27]} yTicks={[0, 1]} showY={[0, 1]} data={fRightCtrls} color={BLUE} axisTop={1.9} />
      <FTrack left={79} width={312} xDomain={[49000, 51000]} xTicks={[49000, 50000, 51000]} active={leftActive} repressed={leftRepressed} />
      <FTrack left={449} width={311} xDomain={[58000, 60000]} xTicks={[58000, 59000, 60000]} active={rightActive} repressed={rightRepressed} />

      {/* G */}
      <div style={fG.style}>
        <ScatterChart width={fG.width} height={fG.height} margin={fG.margin}>
          <CartesianGrid stroke="#c4c4c4" strokeWidth={1} />
          <XAxis type="number" dataKey="x" domain={[-0.155, 2.78]} ticks={[0, 1, 2]} interval={0} axisLine={false} tickLine={false} tickSize={0} tickMargin={7} height={40}
            tick={powX(() => true)} />
          <YAxis type="number" dataKey="y" domain={[-0.07, 1.75]} ticks={[0, 1]} interval={0} axisLine={false} tickLine={false} tickSize={0} tickMargin={10} width={60} tick={powY} />
          <Scatter data={gPts} shape={dot} isAnimationActive={false} />
        </ScatterChart>
      </div>

      {/* H */}
      <div style={fH.style}>
        <LineChart width={fH.width} height={fH.height} margin={fH.margin}>
          <CartesianGrid stroke="#c4c4c4" strokeWidth={1.2} />
          <XAxis type="number" dataKey="x" domain={[-3.58, 3.26]} ticks={[-3, -2, -1, 0, 1, 2, 3]} interval={0} axisLine={false} tickLine={{ stroke: "#222" }} tickSize={3} tickMargin={3} height={40}
            tick={powX((v: number) => Math.abs(v) % 2 === 1)} />
          <YAxis type="number" domain={[-4.67, 0.05]} ticks={[-4, -3, -2, -1, 0]} interval={0} allowDataOverflow axisLine={false} tickLine={{ stroke: "#222" }} tickSize={3} tickMargin={4} width={45} tick={powY} />
          <Line data={xy(histCtrl)} dataKey="y" type="linear" stroke={BLUE} strokeWidth={3} dot={false} isAnimationActive={false} />
          <Line data={xy(histCases)} dataKey="y" type="linear" stroke={ORANGE} strokeWidth={3} dot={false} isAnimationActive={false} />
          <ReferenceArea x1={-3.58} x2={3.26} y1={-4.67} y2={0.05} fill="none" stroke="#222" strokeWidth={1.3} />
        </LineChart>
      </div>

      {/* I */}
      <div style={fI.style}>
        <LineChart width={fI.width} height={fI.height} margin={fI.margin}>
          <CartesianGrid stroke="#c4c4c4" strokeWidth={1.2} />
          <XAxis type="number" dataKey="x" domain={[-0.52, 10.36]} ticks={[0, 2, 4, 6, 8]} interval={0} axisLine={false} tickLine={{ stroke: "#222" }} tickSize={3} tickMargin={4} height={40}
            tick={xTick(plain, FS_T, "#111")} />
          <YAxis type="number" domain={[-0.037, 1.047]} ticks={[0, 0.2, 0.4, 0.6, 0.8, 1]} interval={0} axisLine={false} tickLine={{ stroke: "#222" }} tickSize={3} tickMargin={1} width={45}
            tick={yTick((v: number) => v.toFixed(1), FS_T, "#111")} />
          <Line data={xy(acfCases)} dataKey="y" type="monotone" stroke={ORANGE} strokeWidth={3} dot={false} isAnimationActive={false} />
          <Line data={xy(acfCtrl)} dataKey="y" type="linear" stroke={BLUE} strokeWidth={3} dot={false} isAnimationActive={false} />
          <ReferenceArea x1={-0.52} x2={10.36} y1={-0.037} y2={1.047} fill="none" stroke="#222" strokeWidth={1.3} />
        </LineChart>
      </div>

      {/* overlay: titles, letters, legends, annotations */}
      <svg width={793} height={1388} style={{ position: "absolute", left: 0, top: 0, pointerEvents: "none" }} fontFamily={FONT}>
        <defs>
          <linearGradient id="gcgrad" x1="0" x2="1" y1="0" y2="0">
            {gradStops.map((g) => (
              <stop key={g} offset={(g - gcRange[0]) / (gcRange[1] - gcRange[0])} stopColor={gcColor(g)} />
            ))}
          </linearGradient>
        </defs>
        <g fontSize={31} fill="#111">
          <text x={4} y={33}>A</text>
          <text x={396} y={33}>B</text>
          <text x={4} y={256}>C</text>
          <text x={396} y={276}>D</text>
          <text x={5} y={527}>E</text>
          <text x={10} y={797}>F</text>
          <text x={4} y={1104}>G</text>
          <text x={259} y={1106}>H</text>
          <text x={518} y={1106}>I</text>
        </g>
        <g fontSize={19.5} fill="#333">
          <text x={226} y={257} textAnchor="middle">log10(cov/exp)</text>
          <text transform="translate(21,124) rotate(-90)" textAnchor="middle">log10(breaks/exp)</text>
          <text x={606} y={255} textAnchor="middle">TSSs strength, percentile</text>
          <text transform="translate(410,124) rotate(-90)" textAnchor="middle">log10(cov/exp)</text>
          <text x={226} y={499} textAnchor="middle">log10(cov/exp)</text>
          <text transform="translate(21,364) rotate(-90)" textAnchor="middle">log10(breaks/exp)</text>
          <text x={606} y={498} textAnchor="middle">CTCF cluster strength, percentile</text>
          <text transform="translate(410,364) rotate(-90)" textAnchor="middle">log10(cov/exp)</text>
          <text x={106} y={60}>dels-vs-TSS</text>
          <text x={102} y={298}>dels-vs-CTCF</text>
        </g>
        <g fontSize={19.5}>
          <text x={495} y={171} fill={CTRL_TXT}>ctrls<Sup>coe2014</Sup></text>
          <text x={495} y={201} fill={CASE_TXT}>cases<Sup>coe2014</Sup></text>
        </g>

        {/* E */}
        <text transform="translate(33,645) rotate(-90)" textAnchor="middle" fontSize={19.5} fill="#111">coverage, 100kb bins</text>
        <rect x={618} y={533} width={115} height={28} fill="#fff" fillOpacity={0.9} stroke="#555" strokeWidth={1.2} />
        <text x={623} y={555} fontSize={19.5} fill={CASE_TXT}>cases<Sup>coe2014</Sup></text>
        <rect x={617} y={679} width={100} height={28} fill="#fff" fillOpacity={0.9} stroke="#555" strokeWidth={1.2} />
        <text x={621} y={701} fontSize={19.5} fill={CTRL_TXT}>ctrls<Sup>coe2014</Sup></text>

        {/* F connectors */}
        <g stroke="#a9afaf" strokeWidth={1.5} fill="none">
          <path d={`M${xE(49)},785 L${xE(49)},798 L85,821`} />
          <path d={`M${xE(51)},785 L${xE(51)},798 L388,821`} />
          <path d={`M${xE(492 + 58)},785 L${xE(492 + 58)},798 L447,821`} />
          <path d={`M${xE(492 + 60)},785 L${xE(492 + 60)},798 L750,821`} />
        </g>
        <text transform="translate(33,888) rotate(-90)" textAnchor="middle" fontSize={19.5} fill="#111">coverage, 10kb bins</text>
        <text x={86} y={978} fontSize={19.5} fill={GREEN}>active</text>
        <text x={86} y={1016} fontSize={19.5} fill={GRAY_TRACK}>repressed</text>
        <text x={284} y={1064} fontSize={18} fill="#111">chr1, kb</text>
        <text x={655} y={1064} fontSize={18} fill="#111">chr3, kb</text>

        {/* G */}
        <rect x={64} y={1073} width={170} height={260} fill="none" stroke="#8a8a8a" strokeWidth={1.2} />
        <line x1={64} x2={234} y1={1129} y2={1129} stroke="#222" strokeWidth={1.2} />
        <rect x={71} y={1095} width={158} height={9} fill="url(#gcgrad)" />
        <text x={150} y={1092} textAnchor="middle" fontSize={19.5} fill="#111">GC content</text>
        {gcTicks.map((g) => (
          <text key={g} x={gcX(g)} y={1120} textAnchor="middle" fontSize={19} fill="#111">{g}</text>
        ))}
        <text x={155} y={1379} textAnchor="middle" fontSize={19.5} fill="#111">
          coverage, <tspan fill={CTRL_TXT}>ctrls</tspan><Sup color={CTRL_TXT}>coe2014</Sup>
        </text>
        <text transform="translate(28,1253) rotate(-90)" textAnchor="middle" fontSize={19.5} fill="#111">
          coverage, <tspan fill={CASE_TXT}>cases</tspan><Sup color={CASE_TXT}>coe2014</Sup>
        </text>

        {/* H */}
        <text transform="translate(249,1217) rotate(-90)" textAnchor="middle" fontSize={19.5} fill="#111">frequency</text>
        <text x={400} y={1375} textAnchor="middle" fontSize={19.5} fill="#111">log10(coverage/exp)</text>

        {/* I */}
        <text transform="translate(535,1231) rotate(-90)" textAnchor="middle" fontSize={19.5} fill="#111">auto-correlation</text>
        <text x={680} y={1375} textAnchor="middle" fontSize={19.5} fill="#111">lag, Mb (100kb bins)</text>
        <text x={642} y={1160} fontSize={19.5} fill={CTRL_TXT}>ctrls<Sup>coe2014</Sup></text>
        <text x={642} y={1200} fontSize={19.5} fill={CASE_TXT}>cases<Sup>coe2014</Sup></text>
      </svg>
    </div>
  );
}
